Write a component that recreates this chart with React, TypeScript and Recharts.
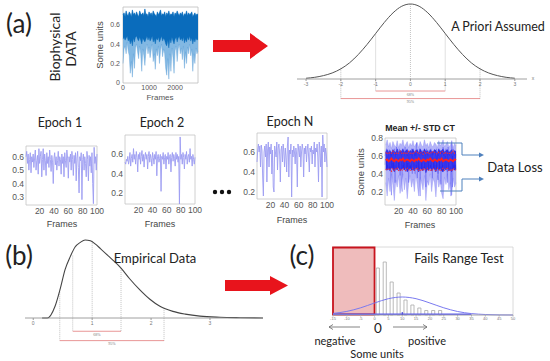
import React from 'react';
import {
  ComposedChart, LineChart, Line, Area, Bar, XAxis, YAxis, ReferenceArea, ReferenceLine,
} from 'recharts';

const FONT = 'Lato, "Open Sans", sans-serif';
const TFONT = '"Liberation Sans", Arial, sans-serif';

// ---------- (a) raw biophysical signal (binned envelope, every 40 frames) ----------
const RAW_STEP = 40;
const rawLo = [0.2,0.35,0.38,0.3,0.42,0.33,0.28,0.1,0.22,0.06,0.3,0.15,0.36,0.4,0.32,0.25,0.38,0.3,0.12,0.35,0.28,0.18,0.33,0.4,0.3,0.37,0.26,0.33,0.4,0.22,0.3,0.14,0.35,0.28,0.38,0.2,0.33,0.4,0.27,0.35,0.3,0.15,0.08,0.25,0.04,0.3,0.12,0.36,0.26,0.1,0.33,0.38,0.22,0.35,0.4,0.3,0.36,0.24,0.38,0.15,0.32,0.2,0.37,0.3,0.4,0.28,0.35,0.12,0.3,0.2,0.36,0.3,0.33];
const rawCore = [0.45,0.47,0.44,0.46,0.48,0.43,0.45,0.4,0.44,0.38,0.46,0.42,0.47,0.48,0.45,0.43,0.47,0.44,0.4,0.46,0.44,0.42,0.45,0.48,0.44,0.47,0.43,0.45,0.48,0.42,0.45,0.4,0.46,0.44,0.47,0.42,0.45,0.48,0.43,0.46,0.44,0.4,0.38,0.44,0.36,0.45,0.41,0.47,0.43,0.4,0.45,0.47,0.42,0.46,0.48,0.44,0.46,0.43,0.47,0.41,0.45,0.42,0.47,0.44,0.48,0.43,0.46,0.4,0.45,0.42,0.46,0.44,0.45];
const rawHi = [0.7,0.72,0.68,0.74,0.7,0.69,0.73,0.71,0.68,0.75,0.7,0.72,0.69,0.73,0.7,0.68,0.74,0.71,0.7,0.72,0.69,0.76,0.7,0.71,0.68,0.73,0.7,0.72,0.69,0.74,0.71,0.7,0.68,0.73,0.7,0.72,0.75,0.69,0.71,0.7,0.73,0.68,0.72,0.7,0.74,0.69,0.71,0.7,0.73,0.68,0.72,0.7,0.74,0.71,0.69,0.72,0.7,0.73,0.68,0.71,0.7,0.74,0.69,0.72,0.7,0.71,0.73,0.68,0.7,0.72,0.69,0.71,0.7];
const RAW_XTICKS = [0, 1000, 2000];
const RAW_YTICKS = [0, 0.2, 0.4, 0.6];

// ---------- epochs ----------
const epoch1 = [0.6,0.64,0.55,0.62,0.5,0.58,0.63,0.48,0.6,0.56,0.62,0.52,0.59,0.65,0.5,0.57,0.61,0.47,0.66,0.55,0.6,0.64,0.45,0.58,0.66,0.5,0.62,0.57,0.46,0.63,0.55,0.6,0.52,0.65,0.58,0.49,0.61,0.56,0.4,0.59,0.63,0.54,0.6,0.5,0.57,0.64,0.53,0.6,0.58,0.47,0.62,0.55,0.6,0.45,0.63,0.57,0.52,0.65,0.59,0.44,0.6,0.56,0.62,0.5,0.64,0.58,0.46,0.61,0.55,0.63,0.42,0.59,0.64,0.52,0.33,0.6,0.57,0.63,0.28,0.58,0.62,0.5,0.6,0.55,0.45,0.64,0.58,0.42,0.61,0.53,0.6,0.48,0.63,0.4,0.25,0.67,0.55,0.6,0.5,0.62];
const epoch2 = [0.52,0.5,0.55,0.53,0.58,0.5,0.54,0.62,0.48,0.56,0.6,0.52,0.66,0.55,0.6,0.5,0.63,0.57,0.42,0.6,0.55,0.62,0.5,0.58,0.64,0.53,0.6,0.47,0.58,0.62,0.55,0.6,0.45,0.58,0.63,0.52,0.6,0.56,0.48,0.62,0.57,0.5,0.6,0.55,0.63,0.38,0.58,0.6,0.52,0.56,0.6,0.22,0.58,0.55,0.62,0.5,0.57,0.6,0.45,0.58,0.55,0.62,0.5,0.58,0.6,0.42,0.57,0.62,0.53,0.6,0.56,0.48,0.62,0.55,0.6,0.52,0.58,0.08,0.78,0.55,0.6,0.5,0.62,0.57,0.45,0.6,0.55,0.63,0.5,0.58,0.6,0.52,0.66,0.55,0.58,0.48,0.6,0.55,0.5,0.57];
const epochN = [0.5,0.62,0.68,0.6,0.66,0.45,0.67,0.62,0.35,0.16,0.6,0.66,0.55,0.68,0.3,0.62,0.7,0.45,0.65,0.58,0.68,0.38,0.62,0.25,0.2,0.66,0.6,0.55,0.7,0.42,0.64,0.68,0.58,0.3,0.62,0.66,0.5,0.68,0.6,0.45,0.64,0.55,0.4,0.66,0.75,0.35,0.62,0.58,0.68,0.15,0.62,0.55,0.66,0.6,0.48,0.64,0.58,0.25,0.68,0.62,0.55,0.66,0.45,0.6,0.68,0.62,0.35,0.64,0.58,0.66,0.5,0.62,0.68,0.55,0.4,0.64,0.6,0.66,0.48,0.62,0.58,0.7,0.45,0.64,0.6,0.68,0.55,0.3,0.7,0.62,0.45,0.66,0.15,0.77,0.6,0.68,0.5,0.64,0.58,0.45];
const EPOCH_XTICKS = [20, 40, 60, 80, 100];

// ---------- mean +/- STD (every 2 frames) ----------
const MEAN_STEP = 2;
const mLo = [0.3,0.15,0.35,0.2,0.4,0.28,0.1,0.33,0.25,0.38,0.18,0.3,0.4,0.22,0.35,0.12,0.3,0.38,0.25,0.34,0.2,0.4,0.28,0.15,0.36,0.3,0.22,0.38,0.1,0.32,0.27,0.4,0.2,0.35,0.3,0.14,0.38,0.25,0.33,0.18,0.12,0.36,0.28,0.4,0.22,0.3,0.16,0.35,0.25,0.3];
const mHi = [0.72,0.78,0.7,0.75,0.68,0.76,0.72,0.7,0.77,0.69,0.74,0.72,0.78,0.7,0.73,0.76,0.69,0.74,0.71,0.77,0.7,0.73,0.75,0.69,0.76,0.72,0.7,0.78,0.71,0.74,0.69,0.76,0.72,0.7,0.75,0.73,0.69,0.77,0.71,0.74,0.78,0.7,0.73,0.76,0.7,0.72,0.75,0.69,0.74,0.71];
const mCoreLo = [0.45,0.44,0.46,0.43,0.47,0.45,0.42,0.46,0.44,0.47,0.43,0.45,0.46,0.44,0.47,0.42,0.45,0.46,0.44,0.45,0.43,0.47,0.45,0.42,0.46,0.45,0.43,0.47,0.41,0.45,0.44,0.47,0.43,0.46,0.45,0.42,0.47,0.44,0.46,0.43,0.42,0.46,0.44,0.47,0.43,0.45,0.42,0.46,0.44,0.45];
const mCoreHi = [0.65,0.67,0.64,0.66,0.63,0.67,0.65,0.64,0.68,0.63,0.66,0.65,0.68,0.64,0.66,0.67,0.63,0.66,0.65,0.68,0.64,0.66,0.67,0.63,0.68,0.65,0.64,0.68,0.65,0.66,0.63,0.67,0.65,0.64,0.67,0.66,0.63,0.68,0.65,0.66,0.68,0.64,0.66,0.67,0.64,0.65,0.67,0.63,0.66,0.65];
const mMean = [0.55,0.56,0.54,0.55,0.57,0.55,0.54,0.56,0.55,0.54,0.56,0.55,0.57,0.54,0.55,0.56,0.55,0.54,0.56,0.55,0.54,0.56,0.55,0.57,0.55,0.54,0.56,0.55,0.54,0.56,0.55,0.57,0.55,0.54,0.56,0.55,0.54,0.56,0.55,0.57,0.54,0.55,0.56,0.55,0.54,0.56,0.55,0.54,0.56,0.55];
const mStdHi = [0.63,0.64,0.62,0.64,0.63,0.65,0.63,0.62,0.64,0.63,0.65,0.63,0.64,0.62,0.64,0.63,0.65,0.63,0.62,0.64,0.63,0.65,0.64,0.62,0.64,0.63,0.62,0.65,0.63,0.64,0.62,0.64,0.63,0.65,0.64,0.63,0.62,0.64,0.63,0.65,0.64,0.62,0.64,0.63,0.62,0.64,0.63,0.65,0.63,0.64];
const mStdLo = [0.45,0.44,0.46,0.45,0.43,0.46,0.44,0.45,0.47,0.44,0.45,0.43,0.46,0.45,0.44,0.46,0.45,0.43,0.45,0.46,0.44,0.45,0.47,0.44,0.45,0.43,0.46,0.44,0.45,0.46,0.44,0.45,0.43,0.46,0.45,0.44,0.46,0.45,0.43,0.45,0.46,0.44,0.45,0.47,0.44,0.45,0.43,0.46,0.45,0.44];
const MEAN_YTICKS = [0.2, 0.4, 0.6, 0.8];

// ---------- a priori normal ----------
const normX = [-3,-2.75,-2.5,-2.25,-2,-1.75,-1.5,-1.25,-1,-0.75,-0.5,-0.25,0,0.25,0.5,0.75,1,1.25,1.5,1.75,2,2.25,2.5,2.75,3];
const normY = [0.004,0.009,0.018,0.032,0.054,0.086,0.13,0.183,0.242,0.301,0.352,0.387,0.399,0.387,0.352,0.301,0.242,0.183,0.13,0.086,0.054,0.032,0.018,0.009,0.004];
const NORM_TICKS = [-3, -2, -1, 0, 1, 2, 3];

// ---------- (b) empirical skewed ----------
const skewX = [0.15,0.24,0.37,0.46,0.54,0.63,0.71,0.8,0.88,0.97,1.05,1.14,1.31,1.49,1.64,1.81,1.98,2.15,2.37,2.58,2.83,3.17,3.51,3.9];
const skewY = [0,0,0.15,0.38,0.62,0.79,0.91,0.97,1,0.99,0.95,0.89,0.77,0.64,0.5,0.36,0.24,0.15,0.085,0.05,0.024,0.01,0.004,0];
const SKEW_TICKS = [0, 1, 2, 3];

// ---------- (c) histogram ----------
const histCenters = [1.25,3.75,6.25,8.75,11.25,13.75,16.25,18.75,21.25,23.75];
const histCounts = [47,53,33,22,15,10,7,4.5,4.5,4.5];
const fitX = [-15,-10,-5,0,5,10,15,20,25,30,35,40,45,50];
const fitY = [1.6,3.6,7.2,12,16.3,18,16.3,12,7.2,3.5,1.4,0.5,0.1,0];
const HIST_TICKS = [-15,-10,-5,0,5,10,15,20,25,30,35,40,45,50];

// ---------- derived tables ----------
const rawData = rawHi.map((h, i) => ({ f: i * RAW_STEP, band: [rawLo[i], h], core: [rawCore[i], h] }));
const toEpoch = (arr: number[]) => arr.map((v, i) => ({ f: i + 1, v }));
const meanData = mMean.map((m, i) => ({
  f: (i + 1) * MEAN_STEP, band: [mLo[i], mHi[i]], core: [mCoreLo[i], mCoreHi[i]], mean: m, hi: mStdHi[i], lo: mStdLo[i],
}));
const normData = normX.map((x, i) => ({ x, y: normY[i] }));
const skewData = skewX.map((x, i) => ({ x, y: skewY[i] }));
const histData = histCenters.map((x, i) => ({ x, n: histCounts[i] }));
const fitData = fitX.map((x, i) => ({ x, fit: fitY[i] }));

const M0 = { top: 0, right: 0, bottom: 0, left: 0 };

const Txt = ({ x, y, size, children, weight = 400, rotate = 0, color = '#222', family = FONT }: any) => (
  <div style={{
    position: 'absolute', left: x, top: y, transform: `translate(-50%,-50%) rotate(${rotate}deg)`,
    fontSize: size, fontFamily: family, fontWeight: weight, color, whiteSpace: 'nowrap', lineHeight: 1,
  }}>{children}</div>
);
const At = ({ x, y, children }: any) => <div style={{ position: 'absolute', left: x, top: y }}>{children}</div>;

const tickStyle = (s: number, c = '#555') => ({ fontSize: s, fill: c, fontFamily: TFONT });

const EpochChart = ({ x, y, w, h, data, domain, ticks }: any) => {
  const yw = 24, xh = 14;
  return (
    <At x={x - yw} y={y}>
      <LineChart width={w + yw} height={h + xh} data={data} margin={M0}>
        <XAxis type="number" dataKey="f" domain={[1, 100]} ticks={EPOCH_XTICKS} interval={0} height={xh}
          tickSize={0} tickLine={false} axisLine={false} tick={tickStyle(8.5)} tickMargin={3} />
        <YAxis type="number" domain={domain} ticks={ticks} interval={0} width={yw} allowDataOverflow
          tickSize={0} tickLine={false} axisLine={false} tick={tickStyle(8.5)} tickMargin={2} />
        <ReferenceArea x1={1} x2={100} y1={domain[0]} y2={domain[1]} fill="none" stroke="#c4c4c4" strokeWidth={0.8} />
        <Line type="linear" dataKey="v" stroke="#9c9cf2" strokeWidth={0.9} dot={false} isAnimationActive={false} />
      </LineChart>
    </At>
  );
};

const dotted = { stroke: '#999', strokeWidth: 0.6, strokeDasharray: '1 1' };
const red = { stroke: '#e06a6a', strokeWidth: 0.7 };

export default function App() {
  return (
    <div style={{ position: 'absolute', left: 0, top: 0, width: 550, height: 361, background: '#fff', overflow: 'hidden' }}>
      <style>{`.recharts-surface{overflow:visible}`}</style>
      {/* raw signal */}
      <At x={101} y={7}>
        <ComposedChart width={97} height={88} data={rawData} margin={M0}>
          <XAxis type="number" dataKey="f" domain={[0, 2880]} ticks={RAW_XTICKS} interval={0} height={12}
            tickSize={0} tickLine={false} axisLine={false} tick={tickStyle(7)} tickMargin={2} />
          <YAxis type="number" domain={[0, 0.78]} ticks={RAW_YTICKS} interval={0} width={22}
            tickSize={0} tickLine={false} axisLine={false} tick={tickStyle(7)} tickMargin={3} />
          <ReferenceArea x1={0} x2={2880} y1={0} y2={0.78} fill="none" stroke="#bdbdbd" strokeWidth={0.8} />
          <Area type="linear" dataKey="band" stroke="#5d9fd6" strokeWidth={0.4} fill="#74b0e0" fillOpacity={0.9} isAnimationActive={false} />
          <Area type="linear" dataKey="core" stroke="#0a6cbc" strokeWidth={0.4} fill="#0a6cbc" fillOpacity={1} isAnimationActive={false} />
        </ComposedChart>
      </At>

      {/* a priori normal */}
      <At x={297} y={4}>
        <LineChart width={230} height={111} data={normData} margin={{ top: 0, right: 0, left: 0, bottom: 28 }}>
          <XAxis type="number" dataKey="x" domain={[-3.26, 3.35]} ticks={NORM_TICKS} interval={0} height={8}
            tickSize={2} tickLine={{ stroke: '#999' }} axisLine={{ stroke: '#888', strokeWidth: 0.8 }} tick={tickStyle(5, '#777')} tickMargin={1} />
          <YAxis hide type="number" domain={[0, 0.399]} />
          <ReferenceLine ifOverflow="visible" segment={[{ x: -2, y: 0.06 }, { x: -2, y: -0.104 }]} {...dotted} />
          <ReferenceLine ifOverflow="visible" segment={[{ x: -1, y: 0.242 }, { x: -1, y: -0.064 }]} {...dotted} />
          <ReferenceLine ifOverflow="visible" segment={[{ x: 0, y: 0.399 }, { x: 0, y: 0 }]} {...dotted} />
          <ReferenceLine ifOverflow="visible" segment={[{ x: 1, y: 0.242 }, { x: 1, y: -0.064 }]} {...dotted} />
          <ReferenceLine ifOverflow="visible" segment={[{ x: 2, y: 0.06 }, { x: 2, y: -0.104 }]} {...dotted} />
          <ReferenceLine ifOverflow="visible" segment={[{ x: -1, y: -0.064 }, { x: 1, y: -0.064 }]} {...red}
            label={{ value: '68%', position: 'bottom', offset: 2, fontSize: 4, fill: '#777' }} />
          <ReferenceLine ifOverflow="visible" segment={[{ x: -2, y: -0.104 }, { x: 2, y: -0.104 }]} {...red}
            label={{ value: '95%', position: 'bottom', offset: 2, fontSize: 4, fill: '#777' }} />
          <Line type="monotone" dataKey="y" stroke="#555" strokeWidth={1} dot={false} isAnimationActive={false} />
        </LineChart>
      </At>

      {/* epochs */}
      <EpochChart x={26} y={146} w={71} h={59} data={toEpoch(epoch1)} domain={[0.24, 0.68]} ticks={[0.3, 0.4, 0.5, 0.6]} />
      <EpochChart x={125} y={135} w={70} h={69} data={toEpoch(epoch2)} domain={[0.09, 0.8]} ticks={[0.2, 0.4, 0.6]} />
      <EpochChart x={257} y={133} w={70} h={66} data={toEpoch(epochN)} domain={[0.13, 0.79]} ticks={[0.2, 0.4, 0.6]} />

      {/* mean +/- std */}
      <At x={363} y={138}>
        <ComposedChart width={93} height={81} data={meanData} margin={M0}>
          <XAxis type="number" dataKey="f" domain={[1, 100]} ticks={EPOCH_XTICKS} interval={0} height={14}
            tickSize={0} tickLine={false} axisLine={false} tick={tickStyle(8.5)} tickMargin={3} />
          <YAxis type="number" domain={[0.05, 0.8]} ticks={MEAN_YTICKS} interval={0} width={22} allowDataOverflow
            tickSize={0} tickLine={false} axisLine={false} tick={tickStyle(8.5)} tickMargin={2} />
          <ReferenceArea x1={1} x2={100} y1={0.05} y2={0.8} fill="none" stroke="#c4c4c4" strokeWidth={0.8} />
          <Area type="linear" dataKey="band" stroke="#8a8af5" strokeWidth={0.4} fill="#9a9af6" fillOpacity={0.75} isAnimationActive={false} />
          <Line type="linear" data={toEpoch(epoch1)} dataKey="v" stroke="#4646f0" strokeWidth={0.5} strokeOpacity={0.7} dot={false} isAnimationActive={false} />
          <Line type="linear" data={toEpoch(epochN)} dataKey="v" stroke="#4646f0" strokeWidth={0.5} strokeOpacity={0.7} dot={false} isAnimationActive={false} />
          <Area type="linear" dataKey="core" stroke="#1515e6" strokeWidth={0.4} fill="#1a1ae8" fillOpacity={0.9} isAnimationActive={false} />
          <Line type="linear" dataKey="hi" stroke="#ff2a2a" strokeWidth={1.4} strokeDasharray="1 1.5" dot={false} isAnimationActive={false} />
          <Line type="linear" dataKey="lo" stroke="#ff2a2a" strokeWidth={1.4} strokeDasharray="1 1.5" dot={false} isAnimationActive={false} />
          <Line type="linear" dataKey="mean" stroke="#ff2020" strokeWidth={1.8} dot={false} isAnimationActive={false} />
        </ComposedChart>
      </At>

      {/* (b) empirical */}
      <At x={25} y={240}>
        <LineChart width={238} height={116} data={skewData} margin={{ top: 0, right: 0, left: 0, bottom: 30 }}>
          <XAxis type="number" dataKey="x" domain={[-0.14, 3.9]} ticks={SKEW_TICKS} interval={0} height={8}
            tickSize={2} tickLine={{ stroke: '#999' }} axisLine={{ stroke: '#888', strokeWidth: 0.8 }} tick={tickStyle(5, '#777')} tickMargin={1} />
          <YAxis hide type="number" domain={[0, 1]} />
          <ReferenceLine ifOverflow="visible" segment={[{ x: 0.45, y: 0.33 }, { x: 0.45, y: -0.29 }]} {...dotted} />
          <ReferenceLine ifOverflow="visible" segment={[{ x: 0.67, y: 0.8 }, { x: 0.67, y: -0.17 }]} {...dotted} />
          <ReferenceLine ifOverflow="visible" segment={[{ x: 1.0, y: 0.99 }, { x: 1.0, y: 0 }]} {...dotted} />
          <ReferenceLine ifOverflow="visible" segment={[{ x: 1.49, y: 0.64 }, { x: 1.49, y: -0.17 }]} {...dotted} />
          <ReferenceLine ifOverflow="visible" segment={[{ x: 2.22, y: 0.13 }, { x: 2.22, y: -0.29 }]} {...dotted} />
          <ReferenceLine ifOverflow="visible" segment={[{ x: 0.67, y: -0.17 }, { x: 1.49, y: -0.17 }]} {...red}
            label={{ value: '68%', position: 'bottom', offset: 2, fontSize: 4, fill: '#777' }} />
          <ReferenceLine ifOverflow="visible" segment={[{ x: 0.45, y: -0.29 }, { x: 2.22, y: -0.29 }]} {...red}
            label={{ value: '95%', position: 'bottom', offset: 2, fontSize: 4, fill: '#777' }} />
          <Line type="monotone" dataKey="y" stroke="#444" strokeWidth={1.1} dot={false} isAnimationActive={false} />
        </LineChart>
      </At>

      {/* (c) histogram */}
      <At x={333} y={247}>
        <ComposedChart width={180} height={76} data={histData} margin={M0}>
          <XAxis type="number" dataKey="x" domain={[-15, 50]} ticks={HIST_TICKS} interval={0} height={8}
            tickSize={1.5} tickLine={{ stroke: '#aaa' }} axisLine={{ stroke: '#aaa', strokeWidth: 0.8 }} tick={tickStyle(4, '#777')} tickMargin={1} />
          <YAxis hide type="number" domain={[0, 68]} />
          <ReferenceArea x1={-15} x2={50} y1={0} y2={68} fill="none" stroke="#d0d0d0" strokeWidth={0.8} />
          <Bar dataKey="n" barSize={7} fill="#fff" stroke="#a8a8a8" strokeWidth={0.8} isAnimationActive={false} />
          <ReferenceArea x1={-15} x2={0} y1={0.5} y2={67.5} fill="#eaa6a6" fillOpacity={0.75} stroke="#c8141e" strokeWidth={1.8} />
          <ReferenceLine ifOverflow="visible" segment={[{ x: -15, y: 0.8 }, { x: 35, y: 0.8 }]} stroke="#5a5aee" strokeWidth={1.4} />
          <ReferenceLine ifOverflow="visible" segment={[{ x: 10, y: 0 }, { x: 10, y: 3 }]} stroke="#3030d0" strokeWidth={1} />
          <Line type="monotone" data={fitData} dataKey="fit" stroke="#7a7af0" strokeWidth={1} dot={false} isAnimationActive={false} />
        </ComposedChart>
      </At>

      {/* texts */}
      <Txt x={19} y={23} size={26}>(a)</Txt>
      <Txt x={55} y={47} size={14} rotate={-90}>Biophysical</Txt>
      <Txt x={71} y={49} size={14} rotate={-90}>DATA</Txt>
      <Txt x={100} y={45} size={9.5} rotate={-90} family={TFONT} color="#444">Some units</Txt>
      <Txt x={160} y={98} size={8} family={TFONT} color="#555">Frames</Txt>
      <Txt x={498} y={27} size={12.5}>A Priori Assumed</Txt>
      <Txt x={533} y={78} size={5} family={TFONT} color="#777">x</Txt>

      <Txt x={60} y={123} size={12.5}>Epoch 1</Txt>
      <Txt x={162} y={123} size={12.5}>Epoch 2</Txt>
      <Txt x={290} y={122} size={12.5}>Epoch N</Txt>
      <Txt x={62} y={224} size={9} family={TFONT} color="#444">Frames</Txt>
      <Txt x={160} y={224} size={9} family={TFONT} color="#444">Frames</Txt>
      <Txt x={292} y={220} size={9} family={TFONT} color="#444">Frames</Txt>
      <Txt x={420} y={225} size={9} family={TFONT} color="#444">Frames</Txt>
      <Txt x={420} y={128} size={8.8} weight={700} family={TFONT} color="#222">Mean +/- STD CT</Txt>
      <Txt x={361} y={172} size={9.5} rotate={-90} family={TFONT} color="#444">Some units</Txt>
      <Txt x={515} y={167} size={13}>Data Loss</Txt>

      <Txt x={19} y={255} size={26}>(b)</Txt>
      <Txt x={155} y={258} size={13}>Empirical Data</Txt>
      <Txt x={302} y={255} size={26}>(c)</Txt>
      <Txt x={459} y={258} size={13}>Fails Range Test</Txt>
      <Txt x={378} y={329} size={13.5}>0</Txt>
      <Txt x={335} y={340} size={11}>negative</Txt>
      <Txt x={427} y={340} size={11}>positive</Txt>
      <Txt x={377} y={353} size={11}>Some units</Txt>

      <svg width={550} height={361} style={{ position: 'absolute', left: 0, top: 0, pointerEvents: 'none' }}>
        <polygon points="213,40 250,40 250,33 268,46 250,59 250,52 213,52" fill="#e8141c" />
        <polygon points="225,280 270,280 270,276 288,285.5 270,295 270,291 225,291" fill="#e8141c" />
        <circle cx={215} cy={192} r={2.2} fill="#111" />
        <circle cx={222} cy={192} r={2.2} fill="#111" />
        <circle cx={229} cy={192} r={2.2} fill="#111" />
        <polyline points="437,143 462,143 462,155 479,155" fill="none" stroke="#4f81bd" strokeWidth={1} />
        <polygon points="479,152.5 484,155 479,157.5" fill="#4f81bd" />
        <polyline points="440,191 462,191 462,179 479,179" fill="none" stroke="#4f81bd" strokeWidth={1} />
        <polygon points="479,176.5 484,179 479,181.5" fill="#4f81bd" />
        <line x1={360} y1={327} x2={329} y2={327} stroke="#666" strokeWidth={0.8} />
        <polyline points="333,324.5 329,327 333,329.5" fill="none" stroke="#666" strokeWidth={0.8} />
        <line x1={393} y1={327} x2={427} y2={327} stroke="#666" strokeWidth={0.8} />
        <polyline points="423,324.5 427,327 423,329.5" fill="none" stroke="#666" strokeWidth={0.8} />
      </svg>
    </div>
  );
}
